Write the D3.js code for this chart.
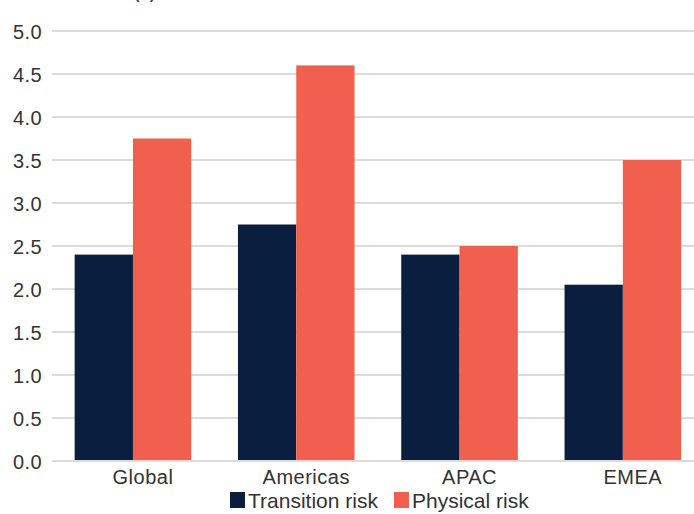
<!DOCTYPE html>
<html>
<head>
<meta charset="utf-8">
<script src="https://cdn.jsdelivr.net/npm/d3@7"></script>
<style>
html,body{margin:0;padding:0;background:#fff;}
svg{display:block;}
text{font-family:"Liberation Sans",Arial,sans-serif;fill:#333;}
</style>
</head>
<body>
<svg id="chart" width="694" height="514"></svg>
<script>
const categories = ["Global", "Americas", "APAC", "EMEA"];
const seriesNames = ["Transition risk", "Physical risk"];
const transitionRisk = [2.4, 2.75, 2.4, 2.05];
const physicalRisk = [3.75, 4.6, 2.5, 3.5];
const yTicks = [0, 0.5, 1, 1.5, 2, 2.5, 3, 3.5, 4, 4.5, 5];
const colors = ["#0a1e3f", "#f1604f"];

const svg = d3.select("#chart");
const x0 = 51.3, step = 163.3;

const x = d3.scaleBand().domain(categories).range([x0, x0 + step * categories.length]).padding(0);
const x1 = d3.scaleBand().domain(seriesNames).range([x.bandwidth() * 0.143, x.bandwidth() * 0.857]).padding(0);
const y = d3.scaleLinear().domain([0, 5]).range([461, 31]);

// cut-off title
svg.append("text").attr("x", 133).attr("y", -2).attr("font-size", 20).text("(x)");

// y axis
const yAxis = d3.axisLeft(y).tickValues(yTicks).tickFormat(d3.format(".1f")).tickSize(0).tickPadding(0);
const gy = svg.append("g").attr("transform", "translate(42,0)").call(yAxis);
gy.select(".domain").remove();
gy.selectAll("text").attr("font-size", 20).attr("letter-spacing", 0.4).attr("fill", "#333")
  .style("font-family", '"Liberation Sans",Arial,sans-serif').attr("dy", "0.36em");

// gridlines
svg.append("g").selectAll("line").data(yTicks).join("line")
  .attr("x1", 52).attr("x2", 694)
  .attr("y1", d => y(d)).attr("y2", d => y(d))
  .attr("stroke", "#dcdcdc").attr("stroke-width", 2);

// bars
const rows = categories.map((c, i) => ({cat: c, vals: [transitionRisk[i], physicalRisk[i]]}));
const groups = svg.append("g").selectAll("g").data(rows).join("g")
  .attr("transform", d => `translate(${x(d.cat)},0)`);
groups.selectAll("rect").data(d => d.vals.map((v, j) => ({s: seriesNames[j], v, j}))).join("rect")
  .attr("x", d => x1(d.s))
  .attr("width", x1.bandwidth())
  .attr("y", d => y(d.v))
  .attr("height", d => y(0) - y(d.v) - 1)
  .attr("fill", d => colors[d.j]);

// x axis labels
const xAxis = d3.axisBottom(x).tickSize(0).tickPadding(0);
const gx = svg.append("g").attr("transform", "translate(10,0)").call(xAxis);
gx.select(".domain").remove();
gx.selectAll("text").attr("y", 484).attr("dy", 0).attr("font-size", 20).attr("letter-spacing", 0.5)
  .attr("fill", "#333").style("font-family", '"Liberation Sans",Arial,sans-serif');

// legend
const legendX = [230, 394];
const leg = svg.append("g").selectAll("g").data(seriesNames).join("g")
  .attr("transform", (d, i) => `translate(${legendX[i]},0)`);
leg.append("rect").attr("x", 0).attr("y", 492).attr("width", 15).attr("height", 16)
  .attr("fill", (d, i) => colors[i]);
leg.append("text").attr("x", 18).attr("y", 508).attr("font-size", 21).attr("fill", "#222").text(d => d);
</script>
</body>
</html>
